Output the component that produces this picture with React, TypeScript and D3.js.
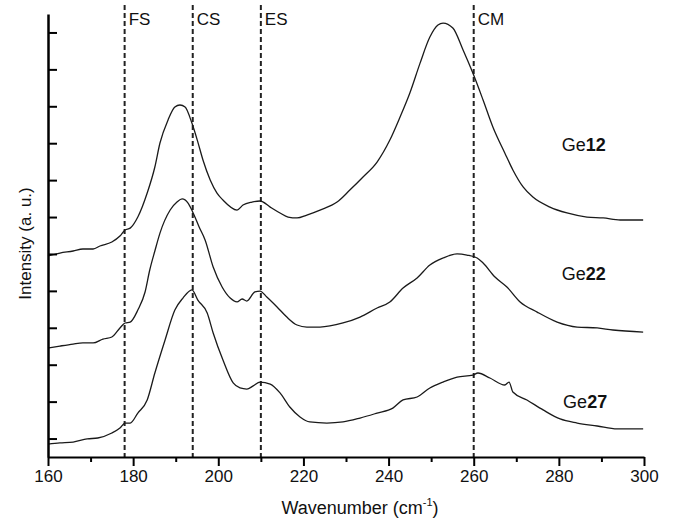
import React, { useEffect, useRef } from 'react';
import * as d3 from 'd3';

// Raman spectra, wavenumber (cm-1) vs intensity (a.u., stacked)
const ge12: [number, number][] = [
  [160.0, 10.89], [162.8, 11.05], [165.9, 11.16], [168.2, 11.27], [170.6, 11.27], [172.2, 11.43],
  [175.0, 11.65], [176.9, 11.97], [178.1, 12.3], [179.3, 12.4], [181.1, 13.0], [183.3, 14.3],
  [185.1, 15.71], [186.3, 17.01], [188.2, 18.26], [189.8, 18.96], [191.0, 19.07], [192.2, 18.96],
  [193.8, 18.09], [195.2, 17.06], [196.4, 16.09], [198.1, 15.01], [199.7, 14.3], [201.1, 13.92],
  [204.4, 13.38], [205.8, 13.65], [207.9, 13.81], [209.8, 13.87], [212.2, 13.54], [214.5, 13.22],
  [216.4, 13.0], [218.5, 12.95], [220.8, 13.11], [223.9, 13.38], [227.9, 13.81], [230.9, 14.46],
  [234.0, 15.17], [237.3, 15.98], [240.3, 17.17], [242.7, 18.42], [245.0, 19.72], [247.4, 21.34],
  [249.7, 22.75], [251.6, 23.4], [252.8, 23.51], [255.1, 23.24], [257.5, 22.05], [259.8, 20.8],
  [262.2, 19.34], [264.5, 17.88], [267.3, 16.47], [269.2, 15.55], [271.6, 14.63], [273.9, 14.08],
  [277.9, 13.54], [281.9, 13.22], [286.6, 13.0], [290.4, 12.95], [294.4, 12.84], [299.8, 12.84],
];

const ge22: [number, number][] = [
  [160.0, 5.9], [162.8, 6.01], [165.9, 6.12], [168.2, 6.18], [170.6, 6.18], [172.9, 6.39],
  [175.0, 6.5], [176.9, 6.99], [178.1, 7.26], [179.3, 7.31], [181.1, 7.96], [182.8, 8.94],
  [183.9, 10.13], [185.1, 11.16], [186.3, 12.13], [188.7, 13.38], [190.3, 13.81], [191.5, 13.98],
  [192.9, 13.76], [194.1, 13.22], [195.5, 12.46], [196.9, 11.76], [198.8, 10.29], [200.9, 9.21],
  [202.8, 8.61], [204.4, 8.4], [205.6, 8.56], [206.7, 8.45], [208.6, 8.94], [209.8, 8.99],
  [211.4, 8.67], [213.8, 8.13], [216.1, 7.58], [218.5, 7.15], [220.8, 7.04], [223.9, 7.04],
  [229.3, 7.26], [233.3, 7.58], [237.3, 8.07], [240.3, 8.4], [243.4, 9.15], [246.7, 9.7],
  [249.7, 10.4], [252.8, 10.78], [256.1, 11.0], [258.4, 10.94], [260.8, 10.78], [262.2, 10.51],
  [265.0, 9.75], [267.8, 9.21], [270.9, 8.4], [274.9, 7.85], [279.6, 7.31], [284.3, 7.04],
  [289.0, 6.99], [292.7, 6.88], [299.8, 6.77],
];

const ge27: [number, number][] = [
  [160.0, 0.7], [162.8, 0.76], [165.9, 0.81], [169.2, 0.98], [171.7, 1.03], [175.0, 1.3],
  [176.9, 1.57], [178.1, 1.84], [179.3, 1.84], [181.1, 2.38], [183.3, 3.09], [185.1, 4.55],
  [187.5, 6.34], [189.8, 7.96], [191.7, 8.61], [193.8, 9.05], [195.2, 8.5], [197.4, 7.8],
  [198.8, 6.72], [201.1, 5.25], [203.5, 4.01], [205.1, 3.74], [206.7, 3.68], [208.2, 3.85],
  [209.8, 4.06], [212.2, 3.95], [214.5, 3.47], [216.8, 2.71], [219.2, 2.17], [221.5, 1.9],
  [225.5, 1.84], [229.3, 1.9], [233.3, 2.11], [237.3, 2.38], [241.0, 2.65], [243.4, 3.09],
  [246.7, 3.25], [249.7, 3.74], [252.8, 4.06], [256.1, 4.33], [259.8, 4.44], [261.0, 4.55],
  [263.8, 4.28], [267.3, 3.9], [268.3, 4.06], [269.2, 3.52], [272.5, 3.09], [276.3, 2.55],
  [280.3, 2.06], [284.3, 1.84], [289.0, 1.68], [293.7, 1.52], [299.8, 1.52],
];

const modes = [
  { label: 'FS', wn: 178 },
  { label: 'CS', wn: 194 },
  { label: 'ES', wn: 210 },
  { label: 'CM', wn: 260 },
];

const sampleLabels = [
  { name: 'Ge', num: '12', wn: 280.7, v: 16.6 },
  { name: 'Ge', num: '22', wn: 280.7, v: 9.6 },
  { name: 'Ge', num: '27', wn: 281.0, v: 2.65 },
];

const xMajor = [160, 180, 200, 220, 240, 260, 280, 300];
const xMinor = [170, 190, 210, 230, 250, 270, 290];
const yTicks = [1, 3, 5, 7, 9, 11, 13, 15, 17, 19, 21, 23];

const FONT = '"Liberation Sans", Arial, Helvetica, sans-serif';

const App: React.FC = () => {
  const svgRef = useRef<SVGSVGElement>(null);

  useEffect(() => {
    const svg = d3.select(svgRef.current);
    svg.selectAll('*').remove();

    const left = 48, right = 644, top = 14, bottom = 457;

    const x = d3.scaleLinear().domain([160, 300]).range([left, right]);
    const y = d3.scaleLinear().domain([0, 24]).range([bottom, top]);

    // dashed mode markers
    const g = svg.append('g');
    g.selectAll('.mode')
      .data(modes)
      .enter().append('line')
      .attr('x1', d => x(d.wn))
      .attr('x2', d => x(d.wn))
      .attr('y1', top - 9)
      .attr('y2', bottom)
      .attr('stroke', '#222')
      .attr('stroke-width', 2)
      .attr('stroke-dasharray', '5,3');

    g.selectAll('.modeLabel')
      .data(modes)
      .enter().append('text')
      .attr('x', d => x(d.wn) + 4)
      .attr('y', 25)
      .attr('font-family', FONT)
      .attr('font-size', 17)
      .attr('fill', '#111')
      .text(d => d.label);

    // spectra
    const line = d3.line<[number, number]>()
      .x(d => x(d[0]))
      .y(d => y(d[1]))
      .curve(d3.curveMonotoneX);

    [ge12, ge22, ge27].forEach(s => {
      g.append('path')
        .datum(s)
        .attr('d', line)
        .attr('fill', 'none')
        .attr('stroke', '#1a1a1a')
        .attr('stroke-width', 1.3);
    });

    // sample labels
    const lab = g.selectAll('.sample')
      .data(sampleLabels)
      .enter().append('text')
      .attr('x', d => x(d.wn))
      .attr('y', d => y(d.v))
      .attr('font-family', FONT)
      .attr('font-size', 18)
      .attr('fill', '#111');
    lab.append('tspan').text(d => d.name);
    lab.append('tspan').attr('font-weight', 'bold').text(d => d.num);

    // axes
    const xAxis = svg.append('g')
      .attr('transform', `translate(0,${bottom})`)
      .call(d3.axisBottom(x).tickValues(xMajor).tickSize(9).tickSizeOuter(0).tickPadding(4).tickFormat(d3.format('d')));
    xAxis.select('.domain').attr('stroke-width', 2);
    xAxis.selectAll('.tick line').attr('stroke-width', 2);
    xAxis.selectAll('.tick text')
      .attr('font-family', FONT)
      .attr('font-size', 17)
      .attr('fill', '#111');

    const xMinorAxis = svg.append('g')
      .attr('transform', `translate(0,${bottom})`)
      .call(d3.axisBottom(x).tickValues(xMinor).tickSize(5).tickFormat(() => ''));
    xMinorAxis.select('.domain').remove();
    xMinorAxis.selectAll('.tick line').attr('stroke-width', 2);

    const yAxis = svg.append('g')
      .attr('transform', `translate(${left},0)`)
      .call(d3.axisRight(y).tickValues(yTicks).tickSize(9).tickSizeOuter(0).tickFormat(() => ''));
    yAxis.select('.domain').attr('stroke-width', 2.5);
    yAxis.selectAll('.tick line').attr('stroke-width', 2);

    // axis titles
    const xt = svg.append('text')
      .attr('x', (left + right) / 2 + 14)
      .attr('y', 514)
      .attr('text-anchor', 'middle')
      .attr('font-family', FONT)
      .attr('font-size', 18)
      .attr('fill', '#111');
    xt.append('tspan').text('Wavenumber (cm');
    xt.append('tspan').attr('font-size', 11).attr('dy', -8).text('-1');
    xt.append('tspan').attr('dy', 8).text(')');

    svg.append('text')
      .attr('transform', `translate(31,${(top + bottom) / 2 + 8}) rotate(-90)`)
      .attr('text-anchor', 'middle')
      .attr('font-family', FONT)
      .attr('font-size', 17)
      .attr('fill', '#111')
      .text('Intensity (a. u.)');
  }, []);

  return (
    <div>
      <svg
        ref={svgRef}
        width={673}
        height={519}
        style={{ position: 'absolute', left: 0, top: 0, background: '#fff' }}
      ></svg>
    </div>
  );
};

export default App;
